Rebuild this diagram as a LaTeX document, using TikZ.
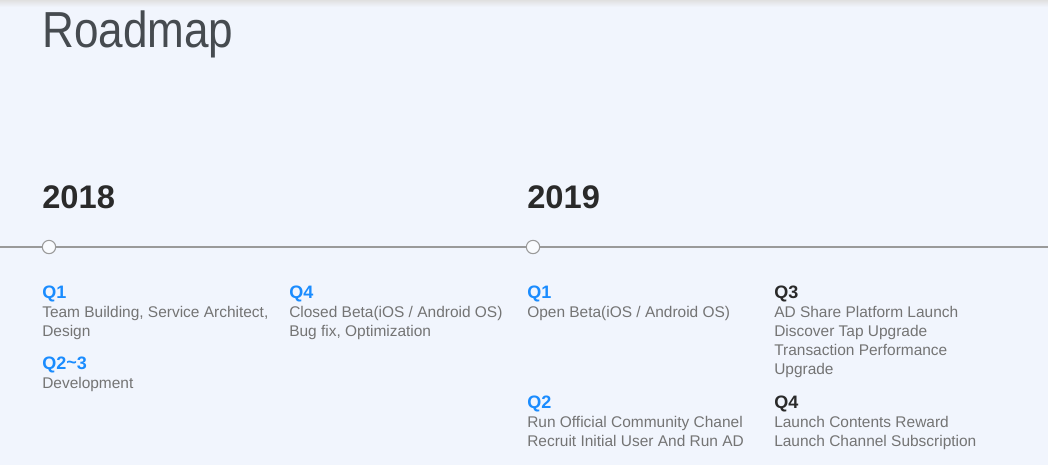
\documentclass[tikz,border=0pt]{standalone}
\usepackage{fontspec}
\setmainfont{Liberation Sans}
\usepackage{tikz}
\usetikzlibrary{positioning}

\definecolor{pagebg}{HTML}{F1F5FD}
\definecolor{qblue}{HTML}{1A8CFF}
\definecolor{bodygray}{HTML}{747474}
\definecolor{yeardark}{HTML}{2A2A2A}
\definecolor{titlegray}{HTML}{464B50}
\definecolor{axisgray}{HTML}{9A9A9A}

\tikzset{
	title/.style={anchor=base west, inner sep=0pt, text=titlegray, font=\fontsize{38}{44}\selectfont},
	year/.style={anchor=base west, inner sep=0pt, text=yeardark, font=\fontsize{24.5}{30}\selectfont\bfseries},
	quarter/.style={anchor=base west, inner sep=0pt, text=qblue, font=\fontsize{13.5}{16}\selectfont\bfseries},
	quarterdark/.style={quarter, text=yeardark},
	items/.style={inner sep=0pt, align=left, text=bodygray, font=\fontsize{11.6}{14.25}\selectfont},
	milestone/.style={circle, draw=axisgray, fill=white!60!pagebg, line width=0.8pt, minimum size=10pt, inner sep=0pt},
}

\begin{document}
\begin{tikzpicture}[x=0.75pt, y=-0.75pt, node distance=3.2pt]

	% page and the faint shadow along the top edge
	\useasboundingbox[fill=pagebg] (0,0) rectangle (1048,465);
	\shade[top color=black!12, bottom color=pagebg] (0,0) rectangle (1048,7);

	\node[title] (T) at (42,47) {\scalebox{0.87}[1]{Roadmap}};

	% the two years
	\node[year] (Y1) at (42,208) {2018};
	\node[year] (Y2) at (527,208) {2019};

	% time axis: USE \coordinate FOR THE FREE ENDS
	\coordinate (L) at (0,247);
	\coordinate (R) at (1048,247);
	\node[milestone] (M1) at (49,247) {};
	\node[milestone] (M2) at (533,247) {};
	\draw[axisgray, line width=0.8pt] (L) -- (M1) -- (M2) -- (R);

	% 2018
	\node[quarter] (A1) at (42,298) {Q1};
	\node[items, below=of A1.south west, anchor=north west] (A1t) {Team Building, Service Architect,\\Design};
	\node[quarter] (A2) at (42,369) {Q2\raisebox{.1ex}{\char`\~}3};
	\node[items, below=of A2.south west, anchor=north west] (A2t) {Development};
	\node[quarter] (A4) at (289,298) {Q4};
	\node[items, below=of A4.south west, anchor=north west] (A4t) {Closed Beta(iOS / Android OS)\\Bug fix, Optimization};

	% 2019
	\node[quarter] (B1) at (527,298) {Q1};
	\node[items, below=of B1.south west, anchor=north west] (B1t) {Open Beta(iOS / Android OS)};
	\node[quarter] (B2) at (527,408) {Q2};
	\node[items, below=of B2.south west, anchor=north west] (B2t) {Run Official Community Chanel\\Recruit Initial User And Run AD};
	\node[quarterdark] (B3) at (774,298) {Q3};
	\node[items, below=of B3.south west, anchor=north west] (B3t) {AD Share Platform Launch\\Discover Tap Upgrade\\Transaction Performance\\Upgrade};
	\node[quarterdark] (B4) at (774,408) {Q4};
	\node[items, below=of B4.south west, anchor=north west] (B4t) {Launch Contents Reward\\Launch Channel Subscription};

\end{tikzpicture}
\end{document}
